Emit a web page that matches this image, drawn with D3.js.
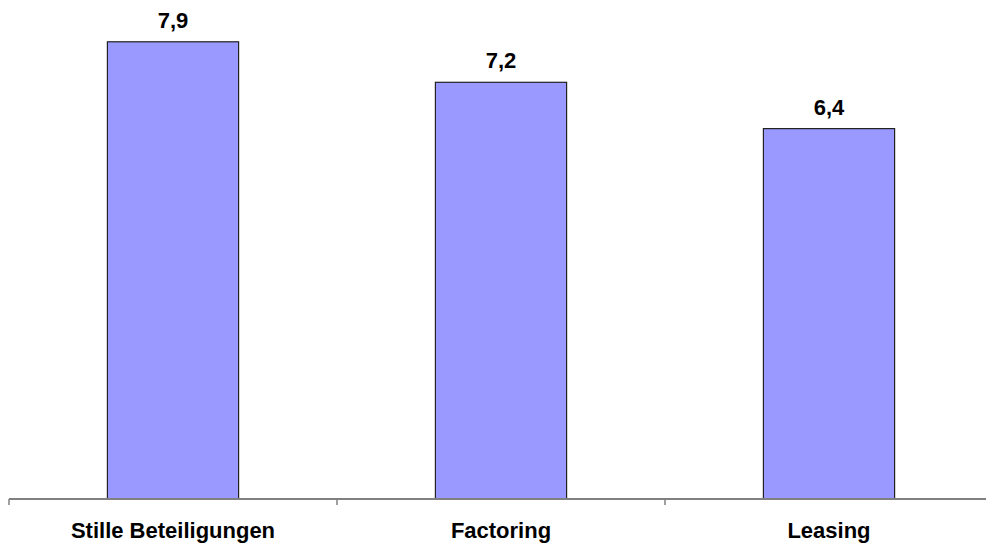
<!DOCTYPE html>
<html>
<head>
<meta charset="utf-8">
<script src="https://cdn.jsdelivr.net/npm/d3@7"></script>
<style>
  html, body { margin: 0; padding: 0; background: #fff; }
  svg { display: block; }
  text { font-family: "Liberation Sans", Arial, sans-serif; font-weight: bold; fill: #000; }
</style>
</head>
<body>
<svg id="chart" width="986" height="545"></svg>
<script>
// Financing instruments and their scores
const categories = ["Stille Beteiligungen", "Factoring", "Leasing"];
const values = [7.9, 7.2, 6.4];
const valueLabels = ["7,9", "7,2", "6,4"];

const W = 986, H = 545;
const margin = { left: 9, right: -7, top: 36, bottom: 46 };
const baseY = H - margin.bottom;

const svg = d3.select("#chart");

const x = d3.scaleBand()
  .domain(categories)
  .range([margin.left, W - margin.right])
  .paddingInner(0.6)
  .paddingOuter(0.3);

const y = d3.scaleLinear()
  .domain([0, 8])
  .range([baseY, margin.top]);

// Bars
svg.append("g")
  .selectAll("rect")
  .data(categories)
  .join("rect")
  .attr("x", d => x(d))
  .attr("y", (d, i) => y(values[i]))
  .attr("width", x.bandwidth())
  .attr("height", (d, i) => y(0) - y(values[i]))
  .attr("fill", "#9999ff")
  .attr("stroke", "#222")
  .attr("stroke-width", 1.2);

// Category axis: baseline with ticks at band boundaries
const step = x.step();
const bounds = categories.map((d, i) => margin.left + i * step).concat([margin.left + categories.length * step]);
const axis = svg.append("g");
axis.append("line")
  .attr("x1", margin.left).attr("x2", W)
  .attr("y1", baseY).attr("y2", baseY)
  .attr("stroke", "#808080").attr("stroke-width", 2);
axis.selectAll("line.tick")
  .data(bounds)
  .join("line")
  .attr("class", "tick")
  .attr("x1", d => d).attr("x2", d => d)
  .attr("y1", baseY).attr("y2", baseY + 6)
  .attr("stroke", "#808080").attr("stroke-width", 1.5);

// Category labels
svg.append("g")
  .selectAll("text")
  .data(categories)
  .join("text")
  .attr("x", d => x(d) + x.bandwidth() / 2)
  .attr("y", baseY + 39)
  .attr("text-anchor", "middle")
  .attr("font-size", 22)
  .text(d => d);

// Value labels above bars
svg.append("g")
  .selectAll("text")
  .data(categories)
  .join("text")
  .attr("x", d => x(d) + x.bandwidth() / 2)
  .attr("y", (d, i) => y(values[i]) - 14)
  .attr("text-anchor", "middle")
  .attr("font-size", 22)
  .text((d, i) => valueLabels[i]);
</script>
</body>
</html>
